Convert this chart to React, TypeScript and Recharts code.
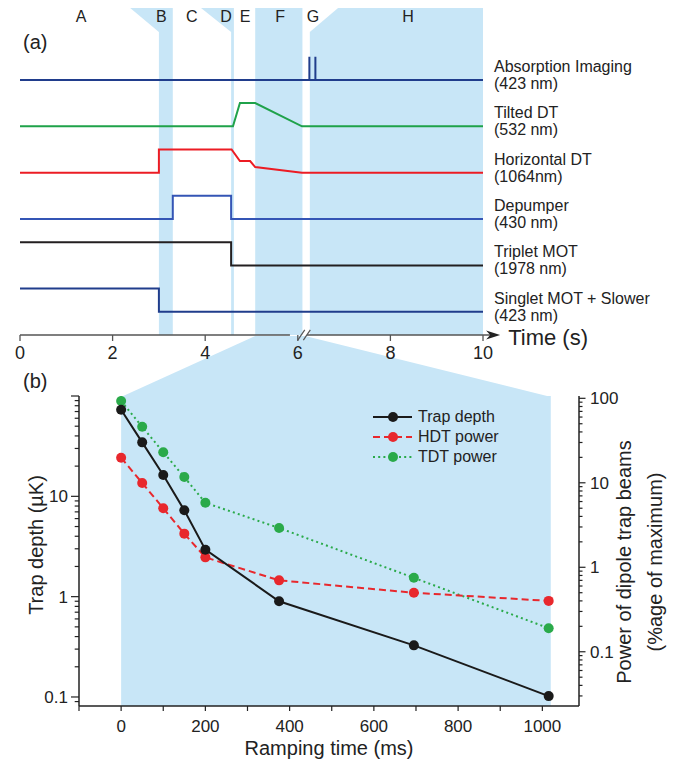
import React from "react";
import {
  ComposedChart,
  Line,
  Area,
  XAxis,
  YAxis,
  ReferenceLine,
  ReferenceArea,
  ReferenceDot,
  Legend,
} from "recharts";

// ---------- panel (a): timing sequence ----------
const timeTicks = [0, 2, 4, 6, 8, 10];

const phaseLetters = ["A", "B", "C", "D", "E", "F", "G", "H"];
const phaseLetterTimes = [1.32, 3.05, 3.71, 4.45, 4.86, 5.62, 6.33, 8.38];

const channelNames = ["Absorption Imaging", "Tilted DT", "Horizontal DT", "Depumper", "Triplet MOT", "Singlet MOT + Slower"];
const channelWavelengths = ["(423 nm)", "(532 nm)", "(1064nm)", "(430 nm)", "(1978 nm)", "(423 nm)"];
const channelRows = [5.5, 4.5, 3.5, 2.5, 1.5, 0.5];

const imagingT = [0, 6.25, 6.25, 6.25, 6.38, 6.38, 6.38, 10];
const imagingV = [5.5, 5.5, 6, 5.5, 5.5, 6, 5.5, 5.5];
const tiltedT = [0, 4.6, 4.75, 5.08, 6.09, 10];
const tiltedV = [4.5, 4.5, 5, 5, 4.5, 4.5];
const horizT = [0, 3, 3, 4.57, 4.75, 4.97, 5.08, 6.09, 10];
const horizV = [3.5, 3.5, 4, 4, 3.75, 3.75, 3.62, 3.5, 3.5];
const depumpT = [0, 3.3, 3.3, 4.56, 4.56, 10];
const depumpV = [2.5, 2.5, 3, 3, 2.5, 2.5];
const tripletT = [0, 4.56, 4.56, 10];
const tripletV = [2, 2, 1.5, 1.5];
const singletT = [0, 3, 3, 10];
const singletV = [1, 1, 0.5, 0.5];

// shaded phases: time, [low, high] level
const phaseB = [[2.38, 7.05, 7.05], [3.0, 6.53, 7.05], [3.0, 0, 7.05], [3.3, 0, 7.05]];
const phaseD = [[3.91, 7.05, 7.05], [4.56, 6.53, 7.05], [4.56, 0, 7.05], [4.62, 0, 7.05]];
const phaseF = [[5.08, 0, 7.05], [6.1, 0, 7.05]];
const phaseH = [[6.26, 0, 6.53], [6.87, 0, 7.05], [10, 0, 7.05]];
// zoom wedge from phase F down to panel (b)
const connector = [[2.18, 0, 0], [5.08, 0, 1], [6.16, 0, 1], [11.47, 0, 0]];

// ---------- panel (b): evaporation ramp ----------
const rampTimes = [0, 50, 100, 150, 200, 375, 695, 1015];
const trapDepth = [73, 34.5, 16.3, 7.25, 2.94, 0.9, 0.327, 0.102];
const hdtPower = [19.8, 9.95, 5.0, 2.5, 1.31, 0.7, 0.5, 0.4];
const tdtPower = [93, 46, 23, 11.7, 5.8, 2.92, 0.75, 0.19];

const rampTicks = [-100, 0, 100, 200, 300, 400, 500, 600, 700, 800, 900, 1000];
const leftMajor = [0.1, 1, 10, 100];
const leftLabels = ["0.1", "1", "10", ""];
const rightMajor = [0.1, 1, 10, 100];
const rightLabels = ["0.1", "1", "10", "100"];

const legendNames = ["Trap depth", "HDT power", "TDT power"];

const zip = (t: number[], v: number[]) => t.map((x, i) => ({ t: x, v: v[i] }));
const poly = (p: number[][]) => p.map(([t, lo, hi]) => ({ t, r: [lo, hi] }));

const rampData = rampTimes.map((t, i) => ({ t, trap: trapDepth[i], hdt: hdtPower[i], tdt: tdtPower[i] }));

function withMinor(lo: number, hi: number) {
  const out: number[] = [];
  for (const d of [0.01, 0.1, 1, 10]) {
    for (let m = 1; m <= 9; m++) {
      const v = +(m * d).toPrecision(3);
      if (v >= lo && v <= hi) out.push(v);
    }
  }
  if (100 <= hi) out.push(100);
  return out;
}
const leftDomain = [0.0813, 100];
const rightDomain = [0.0228, 106.5];
const leftTicks = withMinor(leftDomain[0], leftDomain[1]);
const rightTicks = withMinor(rightDomain[0], rightDomain[1]);

const INK = "#222";
const SHADE = "#c8e6f7";
const traces = [
  { t: imagingT, v: imagingV, color: "#203d8c" },
  { t: tiltedT, v: tiltedV, color: "#1fa24a" },
  { t: horizT, v: horizV, color: "#ec1c24" },
  { t: depumpT, v: depumpV, color: "#3455b5" },
  { t: tripletT, v: tripletV, color: "#231f20" },
  { t: singletT, v: singletV, color: "#203d8c" },
];
const seriesStyle = [
  { key: "trap", color: "#1a1a1a", dash: undefined, axis: "left" },
  { key: "hdt", color: "#e8282d", dash: "7 4", axis: "right" },
  { key: "tdt", color: "#2aaa4a", dash: "2 3.2", axis: "right" },
];

const ChannelTick = (props: any) => {
  const { x, y, payload } = props;
  const i = channelRows.indexOf(payload.value);
  if (i < 0) return null;
  return (
    <g fontSize={16} fill={INK}>
      <text x={x} y={y - 8} fill={INK}>{channelNames[i]}</text>
      <text x={x} y={y + 9} fill={INK}>{channelWavelengths[i]}</text>
    </g>
  );
};

const TimeArrow = (props: any) => {
  const { x1, y1, x2, y2 } = props;
  return (
    <g>
      <line x1={x1} y1={y1} x2={x2 - 8} y2={y2} stroke="#555" strokeWidth={1.6} />
      <polygon points={`${x2},${y2} ${x2 - 14},${y2 - 4.5} ${x2 - 10},${y2} ${x2 - 14},${y2 + 4.5}`} fill={INK} />
      <text x={x2 + 8} y={y2 + 10} fontSize={22} fill={INK}>Time (s)</text>
    </g>
  );
};

const logTick = (major: number[], labels: string[], side: "left" | "right") => (props: any) => {
  const { x, y, payload } = props;
  const v = payload.value;
  const mi = major.indexOf(v);
  const len = mi >= 0 ? (side === "left" ? 8 : 6.5) : (side === "left" ? 4.3 : 3.5);
  const s = side === "left" ? -1 : 1;
  return (
    <g>
      <line x1={x} x2={x + s * len} y1={y} y2={y} stroke={INK} strokeWidth={1.2} />
      {mi >= 0 && labels[mi] && (
        <text x={x + s * 11} y={y} dy="0.36em" textAnchor={side === "left" ? "end" : "start"} fontSize={17} fill={INK}>
          {labels[mi]}
        </text>
      )}
    </g>
  );
};

const vTitle = (lines: string[], dxs: number[], dy: number) => (props: any) => {
  const vb = props.viewBox || {};
  const cy = vb.y + vb.height / 2 + dy;
  return (
    <g>
      {lines.map((s, i) => {
        const cx = vb.x + dxs[i];
        return (
          <text key={i} x={cx} y={cy} transform={`rotate(-90, ${cx}, ${cy})`} textAnchor="middle" dominantBaseline="central" fontSize={20} fill={INK}>
            {s}
          </text>
        );
      })}
    </g>
  );
};

const RampLegend = () => (
  <div style={{ fontSize: 16, color: INK, lineHeight: "20px" }}>
    {legendNames.map((n, i) => (
      <div key={n} style={{ display: "flex", alignItems: "center", height: 20 }}>
        <svg width={45} height={20}>
          <line x1={0} x2={39} y1={10} y2={10} stroke={seriesStyle[i].color} strokeWidth={2} strokeDasharray={seriesStyle[i].dash} />
          <circle cx={20} cy={10} r={5} fill={seriesStyle[i].color} />
        </svg>
        <span>{n}</span>
      </div>
    ))}
  </div>
);

export default function App() {
  const abs = (top: number): React.CSSProperties => ({ position: "absolute", left: 0, top });
  return (
    <div style={{ position: "absolute", left: 0, top: 0, width: 674, height: 759, overflow: "hidden", background: "#fff", fontFamily: '"Liberation Sans", Arial, Helvetica, sans-serif' }}>
      {/* zoom connector, behind both panels */}
      <div style={abs(0)}>
        <ComposedChart width={674} height={400} margin={{ top: 336, right: 98.4, left: 20, bottom: 3 }}>
          <XAxis dataKey="t" type="number" domain={[0, 12]} hide />
          <YAxis type="number" domain={[0, 1]} hide />
          <Area data={poly(connector)} dataKey="r" type="linear" stroke="none" fill={SHADE} fillOpacity={1} isAnimationActive={false} dot={false} activeDot={false} />
        </ComposedChart>
      </div>

      {/* panel (a) */}
      <div style={abs(0)}>
        <ComposedChart width={674} height={370} margin={{ top: 8, right: 0, left: 20, bottom: 10 }}>
          <XAxis
            dataKey="t"
            type="number"
            domain={[0, 10]}
            ticks={timeTicks}
            interval={0}
            axisLine={false}
            tickLine={{ stroke: "#555", strokeWidth: 1.3 }}
            tickSize={6}
            tickMargin={5}
            height={25}
            tick={{ fill: INK, fontSize: 18 }}
          />
          <YAxis
            orientation="right"
            type="number"
            domain={[0, 7.05]}
            ticks={channelRows}
            interval={0}
            axisLine={false}
            tickLine={false}
            tickSize={0}
            tickMargin={11}
            width={191}
            tick={<ChannelTick />}
          />
          {[phaseB, phaseD, phaseF, phaseH].map((p, i) => (
            <Area key={"ph" + i} data={poly(p)} dataKey="r" type="linear" stroke="none" fill={SHADE} fillOpacity={1} isAnimationActive={false} dot={false} activeDot={false} />
          ))}
          {traces.map((tr, i) => (
            <Line key={"tr" + i} data={zip(tr.t, tr.v)} dataKey="v" type="linear" stroke={tr.color} strokeWidth={2} dot={false} activeDot={false} isAnimationActive={false} />
          ))}
          <ReferenceLine segment={[{ x: 0, y: 0 }, { x: 5.83, y: 0 }]} stroke="#555" strokeWidth={1.6} />
          <ReferenceLine segment={[{ x: 6.2, y: 0 }, { x: 10.37, y: 0 }]} ifOverflow="visible" shape={<TimeArrow />} />
          <ReferenceLine segment={[{ x: 6.0, y: -0.11 }, { x: 6.15, y: 0.11 }]} ifOverflow="visible" stroke="#555" strokeWidth={1.2} />
          <ReferenceLine segment={[{ x: 6.12, y: -0.11 }, { x: 6.27, y: 0.11 }]} ifOverflow="visible" stroke="#555" strokeWidth={1.2} />
          {phaseLetters.map((s, i) => (
            <ReferenceDot key={s} x={phaseLetterTimes[i]} y={6.87} r={1} fill="none" stroke="none" label={{ value: s, position: "center", fontSize: 16, fill: INK }} />
          ))}
        </ComposedChart>
      </div>

      {/* panel (b) */}
      <div style={abs(370)}>
        <ComposedChart width={674} height={389} data={rampData} margin={{ top: 26, right: 0, left: 0, bottom: 0 }}>
          <XAxis
            dataKey="t"
            type="number"
            domain={[-100, 1087]}
            allowDataOverflow
            ticks={rampTicks}
            interval={0}
            tickFormatter={(v: number) => (v >= 0 && v % 200 === 0 ? String(v) : "")}
            axisLine={{ stroke: INK, strokeWidth: 1.5 }}
            tickLine={{ stroke: INK, strokeWidth: 1.2 }}
            tickSize={5}
            tickMargin={9}
            height={53}
            tick={{ fill: INK, fontSize: 17 }}
            label={{ value: "Ramping time (ms)", position: "insideBottom", offset: 4, fontSize: 20, fill: INK }}
          />
          <YAxis
            yAxisId="left"
            type="number"
            scale="log"
            domain={leftDomain}
            allowDataOverflow
            ticks={leftTicks}
            interval={0}
            width={79}
            axisLine={{ stroke: INK, strokeWidth: 1.5 }}
            tickLine={false}
            tickSize={0}
            tickMargin={0}
            tick={logTick(leftMajor, leftLabels, "left")}
            label={{ content: vTitle(["Trap depth (µK)"], [36], -6) }}
          />
          <YAxis
            yAxisId="right"
            orientation="right"
            type="number"
            scale="log"
            domain={rightDomain}
            allowDataOverflow
            ticks={rightTicks}
            interval={0}
            width={95}
            axisLine={{ stroke: INK, strokeWidth: 1.5 }}
            tickLine={false}
            tickSize={0}
            tickMargin={0}
            tick={logTick(rightMajor, rightLabels, "right")}
            label={{ content: vTitle(["Power of dipole trap beams", "(%age of maximum)"], [45, 76], 11) }}
          />
          <ReferenceArea yAxisId="left" x1={0} x2={1020} fill={SHADE} fillOpacity={1} stroke="none" />
          {[seriesStyle[2], seriesStyle[1], seriesStyle[0]].map((s) => (
            <Line
              key={s.key}
              yAxisId={s.axis}
              dataKey={s.key}
              type="linear"
              stroke={s.color}
              strokeWidth={2}
              strokeDasharray={s.dash}
              dot={{ r: 5, fill: s.color, stroke: "none", strokeDasharray: "" }}
              activeDot={false}
              isAnimationActive={false}
            />
          ))}
          <Legend layout="vertical" align="center" verticalAlign="middle" content={<RampLegend />} wrapperStyle={{ position: "absolute", left: 373, top: 37, width: 130 }} />
        </ComposedChart>
      </div>

      <div style={{ position: "absolute", left: 23, top: 31, fontSize: 20, color: INK }}>(a)</div>
      <div style={{ position: "absolute", left: 23, top: 370, fontSize: 20, color: INK }}>(b)</div>
    </div>
  );
}
